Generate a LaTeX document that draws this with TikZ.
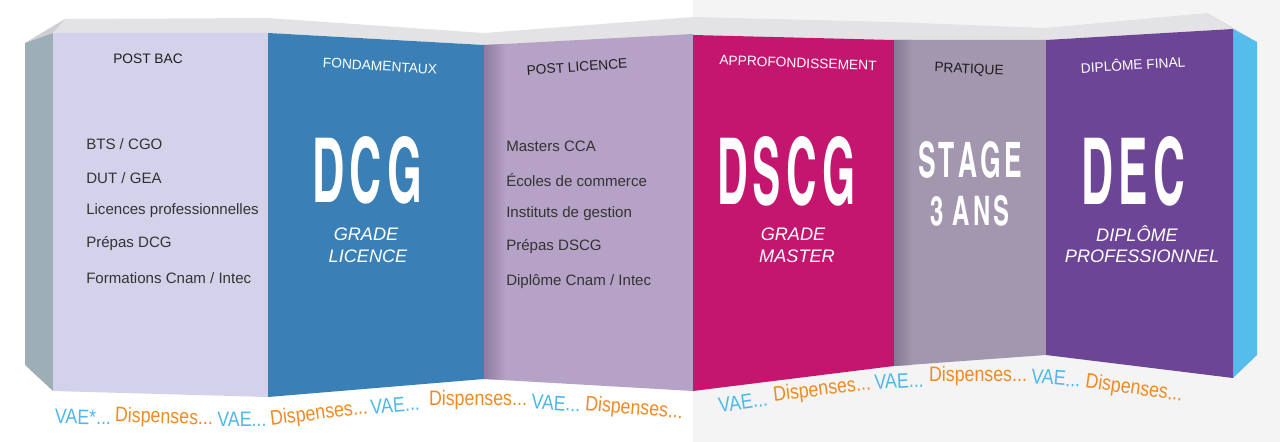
\documentclass[tikz,border=0pt]{standalone}
\usepackage{xcolor}
\usepackage{graphicx}
\usepackage{fontspec}
\usepackage{tikz}
\setmainfont{Liberation Sans}
\newfontfamily\bigfont{texgyreheroscn-bold.otf}
\newfontfamily\ribbonfont{Liberation Sans}[FakeStretch=0.85]
\newcommand{\bigword}[3]{\resizebox{#1}{#2}{\bigfont #3}}
\newcommand{\lsp}{\kern.1em}

\definecolor{backgray}{RGB}{244,244,244}
\definecolor{topgray}{RGB}{227,227,229}
\definecolor{cornergray}{RGB}{206,207,210}
\definecolor{sideslate}{RGB}{158,174,182}
\definecolor{sideblue}{RGB}{85,189,236}
\definecolor{postbac}{RGB}{212,210,234}
\definecolor{dcgblue}{RGB}{58,128,182}
\definecolor{postlic}{RGB}{182,162,198}
\definecolor{postlicshade}{RGB}{140,124,158}
\definecolor{dscgpink}{RGB}{196,21,111}
\definecolor{stagemauve}{RGB}{163,150,175}
\definecolor{stageshade}{RGB}{132,120,146}
\definecolor{decpurple}{RGB}{109,69,150}
\definecolor{itemgray}{RGB}{51,51,51}
\definecolor{headdark}{RGB}{30,30,30}
\definecolor{vaeblue}{RGB}{77,184,234}
\definecolor{disporange}{RGB}{240,138,36}

\begin{document}
\begin{tikzpicture}[x=0.75pt,y=0.75pt,yscale=-1,xscale=1,
  head/.style={inner sep=0.75pt,text=headdark,font=\fontsize{10.3}{12}\selectfont},
  item/.style={anchor=west,inner sep=0.75pt,text=itemgray,font=\fontsize{11.3}{13}\selectfont},
  subtitle/.style={inner sep=0.75pt,text=white,font=\fontsize{13.6}{16}\selectfont\itshape},
  big/.style={inner sep=0pt,text=white},
  vae/.style={inner sep=0pt,text=vaeblue,font=\ribbonfont\fontsize{15.7}{18}\selectfont},
  disp/.style={vae,text=disporange}]
%set diagram left start at 0, and has height of 442
\useasboundingbox (0,0) rectangle (1280,442);

%Shape: Rectangle [right half background]
\fill [color=backgray] (693,0) rectangle (1280,442);

%Shape: Polygon [top band]
\fill [color=topgray] (53,33) -- (65,19) -- (268,18) -- (484,33) -- (693,17) -- (893,22) -- (1045,28) -- (1207,13) -- (1233,29) -- (1045,40) -- (893,40) -- (693,35) -- (484,45) -- (268,33) -- cycle ;
%Shape: Polygon [band corners]
\fill [color=cornergray] (25,43) -- (65,19) -- (53,33) -- cycle ;
\fill [color=cornergray] (1207,13) -- (1257,42) -- (1233,29) -- cycle ;

%Shape: Polygon [left side]
\fill [color=sideslate] (25,43) -- (53,33) -- (53,391) -- (25,365) -- cycle ;
%Shape: Polygon [right side]
\fill [color=sideblue] (1233,29) -- (1257,42) -- (1257,355) -- (1233,378) -- cycle ;

%Shape: Polygon [panels]
\fill [color=postbac] (53,33) -- (268,33) -- (268,397) -- (53,391) -- cycle ;
\fill [color=dcgblue] (268,33) -- (484,45) -- (484,379) -- (268,397) -- cycle ;
\fill [color=postlic] (484,45) -- (693,34) -- (693,391) -- (484,379) -- cycle ;
\fill [color=dscgpink] (693,35) -- (894,40) -- (894,366) -- (693,391) -- cycle ;
\fill [color=stagemauve] (894,40) -- (1046,40) -- (1046,355) -- (894,366) -- cycle ;
\fill [color=decpurple] (1046,40) -- (1233,29) -- (1233,378) -- (1046,355) -- cycle ;

%Shape: Polygon [fold shadows]
\shade [left color=postlicshade, right color=postlic] (484,45) -- (506,44) -- (506,380) -- (484,379) -- cycle ;
\shade [left color=stageshade, right color=stagemauve] (894,40) -- (912,40) -- (912,365) -- (894,366) -- cycle ;

% Text Node
\draw (148,59) node [head] (hbac) {POST BAC};
% Text Node
\draw (380,66) node [head, text=white, rotate=-3.5] (hfond) {FONDAMENTAUX};
% Text Node
\draw (577,67) node [head, rotate=4] (hlic) {POST LICENCE};
% Text Node
\draw (798,63) node [head, text=white, rotate=-2] (happ) {APPROFONDISSEMENT};
% Text Node
\draw (969,70) node [head, rotate=-2.5] (hprat) {PRATIQUE};
% Text Node
\draw (1133,64) node [head, text=white, rotate=3.4] (hfin) {DIPLÔME FINAL};

% Text Node
\draw (85,144) node [item] (bts) {BTS / CGO};
\draw (85,178) node [item] (dut) {DUT / GEA};
\draw (85,211) node [item] (lpro) {Licences professionnelles};
\draw (85,244) node [item] (pdcg) {Prépas DCG};
\draw (85,278) node [item] (fcnam) {Formations Cnam / Intec};

% Text Node
\draw (505,146) node [item] (mcca) {Masters CCA};
\draw (505,180) node [item] (ecom) {Écoles de commerce};
\draw (505,214) node [item] (igest) {Instituts de gestion};
\draw (505,247) node [item] (pdscg) {Prépas DSCG};
\draw (505,282) node [item] (dcnam) {Diplôme Cnam / Intec};

% Text Node
\draw (367,170) node [big] (dcg) {\bigword{82.5pt}{49.5pt}{D\lsp C\lsp G}};
\draw (366,234) node [subtitle] (grlic) {GRADE};
\draw (368,256) node [subtitle] (lic) {LICENCE};
% Text Node
\draw (786,171) node [big] (dscg) {\bigword{103.5pt}{51pt}{D\lsp S\lsp C\lsp G}};
\draw (793,234) node [subtitle] (grmas) {GRADE};
\draw (797,256) node [subtitle] (mas) {MASTER};
% Text Node
\draw (970,160) node [big] (stage) {\bigword{78pt}{27pt}{S\lsp T\lsp A\lsp G\lsp E}};
\draw (970,211) node [big] (ans) {\bigword{59pt}{22.5pt}{3\kern.3em A\lsp N\lsp S}};
% Text Node
\draw (1133,171) node [big] (dec) {\bigword{78pt}{51pt}{D\lsp E\lsp C}};
\draw (1137,234) node [subtitle] (dipl) {DIPLÔME};
\draw (1142,256) node [subtitle] (pro) {PROFESSIONNEL};

% Text Node
\draw (83,417) node [vae, rotate=-1] (v1) {VAE*...};
\draw (164,418) node [disp, rotate=-2] (d1) {Dispenses...};
\draw (242,419) node [vae] (v2) {VAE...};
\draw (319,414) node [disp, rotate=7] (d2) {Dispenses...};
\draw (395,405) node [vae, rotate=5] (v3) {VAE...};
\draw (478,400) node [disp] (d3) {Dispenses...};
\draw (556,403) node [vae, rotate=-4] (v4) {VAE...};
\draw (634,409) node [disp, rotate=-5] (d4) {Dispenses...};
% Text Node
\draw (743,402) node [vae, rotate=8] (v5) {VAE...};
\draw (822,390) node [disp, rotate=7] (d5) {Dispenses...};
\draw (899,381) node [vae, rotate=3] (v6) {VAE...};
\draw (978,376) node [disp] (d6) {Dispenses...};
\draw (1056,378) node [vae, rotate=-5] (v7) {VAE...};
\draw (1134,389) node [disp, rotate=-8] (d7) {Dispenses...};

\end{tikzpicture}
\end{document}
